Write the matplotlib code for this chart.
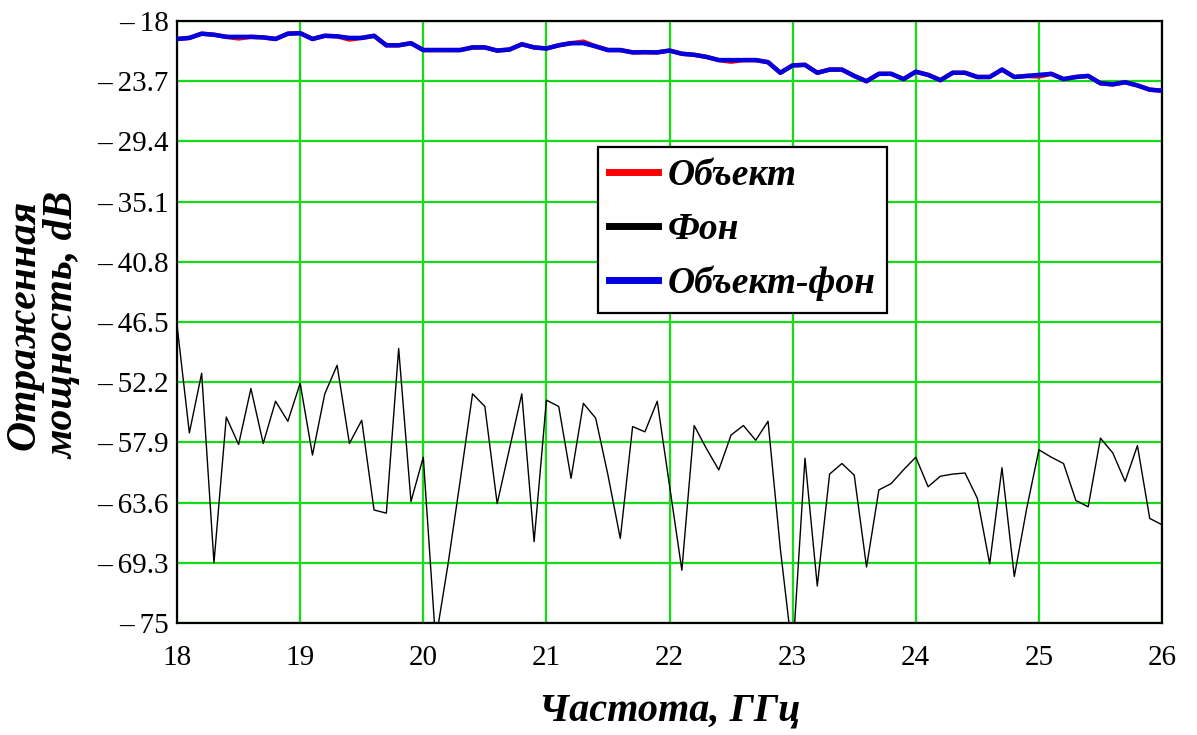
import numpy as np
import matplotlib
matplotlib.use("Agg")
import matplotlib.pyplot as plt

# Frequency grid, GHz (step 0.1)
freq = np.round(np.arange(18.0, 26.0001, 0.1), 1)

# Reflected power, dB
obj_bg = [-19.7, -19.6, -19.2, -19.3, -19.5, -19.5, -19.5, -19.55, -19.7, -19.2,
          -19.15, -19.7, -19.4, -19.45, -19.6, -19.6, -19.4, -20.3, -20.3, -20.1,
          -20.75, -20.75, -20.75, -20.75, -20.5, -20.5, -20.8, -20.7, -20.2, -20.5,
          -20.6, -20.3, -20.1, -20.1, -20.4, -20.75, -20.75, -20.97, -20.95, -20.97,
          -20.8, -21.1, -21.2, -21.4, -21.7, -21.7, -21.7, -21.7, -21.9, -22.9,
          -22.2, -22.15, -22.9, -22.6, -22.6, -23.2, -23.7, -23.0, -23.0, -23.5,
          -22.8, -23.1, -23.6, -22.9, -22.9, -23.3, -23.3, -22.6, -23.3, -23.2,
          -23.1, -23.0, -23.5, -23.3, -23.2, -23.9, -24.0, -23.8, -24.1, -24.5,
          -24.6]

obj = [-19.7, -19.6, -19.2, -19.3, -19.5, -19.65, -19.5, -19.55, -19.7, -19.2,
       -19.15, -19.7, -19.4, -19.45, -19.75, -19.6, -19.4, -20.3, -20.3, -20.1,
       -20.75, -20.75, -20.75, -20.75, -20.5, -20.5, -20.8, -20.7, -20.2, -20.5,
       -20.6, -20.3, -20.1, -19.95, -20.4, -20.75, -20.75, -20.97, -20.95, -20.97,
       -20.8, -21.1, -21.2, -21.4, -21.7, -21.85, -21.7, -21.7, -21.9, -22.9,
       -22.2, -22.15, -22.9, -22.6, -22.6, -23.2, -23.7, -23.0, -23.0, -23.5,
       -22.8, -23.1, -23.6, -22.9, -22.9, -23.3, -23.3, -22.6, -23.3, -23.2,
       -23.25, -23.0, -23.5, -23.3, -23.2, -23.9, -24.0, -23.8, -24.1, -24.5,
       -24.6]

bg = [-46.8, -57.0, -51.35, -69.3, -55.5, -58.1, -52.8, -58.0, -54.0, -55.9,
      -52.3, -59.1, -53.3, -50.6, -58.0, -55.8, -64.3, -64.6, -49.0, -63.5,
      -59.3, -76.7, -69.5, -61.5, -53.3, -54.5, -63.7, -58.5, -53.3, -67.3,
      -53.9, -54.5, -61.3, -54.2, -55.6, -61.0, -67.0, -56.4, -56.9, -54.0,
      -62.0, -70.0, -56.3, -58.5, -60.5, -57.2, -56.3, -57.7, -55.9, -68.0,
      -78.0, -59.4, -71.5, -60.9, -59.9, -61.0, -69.7, -62.4, -61.8, -60.5,
      -59.3, -62.1, -61.1, -60.9, -60.8, -63.2, -69.4, -60.3, -70.6, -64.2,
      -58.6, -59.3, -59.9, -63.4, -64.0, -57.5, -58.9, -61.6, -58.2, -65.1,
      -65.7]

x_ticks = [18, 19, 20, 21, 22, 23, 24, 25, 26]
y_ticks = [-18, -23.7, -29.4, -35.1, -40.8, -46.5, -52.2, -57.9, -63.6, -69.3, -75]

labels = ["Объект", "Фон", "Объект-фон"]

serif = ["Liberation Serif", "DejaVu Serif"]


def tick_text(v):
    s = "%g" % abs(v)
    return "\u2013\u2009" + s if v < 0 else s


def main():
    fig = plt.figure(figsize=(11.97, 7.35), dpi=100)
    ax = fig.add_axes([0.1479, 0.1524, 0.8229, 0.8190])

    ax.plot(freq, obj, color="#ff0000", lw=3.2, label=labels[0], zorder=3)
    ax.plot(freq, bg, color="black", lw=1.0, label=labels[1], zorder=3)
    ax.plot(freq, obj_bg, color="#0000e0", lw=3.2, label=labels[2], zorder=4)

    ax.set_xlim(18, 26)
    ax.set_ylim(-75, -18)
    ax.set_xticks(x_ticks)
    ax.set_yticks(y_ticks)
    ax.set_xticklabels([tick_text(v) for v in x_ticks], family=serif, fontsize=21)
    ax.set_yticklabels([tick_text(v) for v in y_ticks], family=serif, fontsize=21)
    ax.tick_params(axis="both", length=0)
    ax.tick_params(axis="x", pad=16)
    ax.tick_params(axis="y", pad=6)

    ax.grid(True, color="#14dc14", lw=1.6)
    ax.set_axisbelow(True)
    for sp in ax.spines.values():
        sp.set_color("black")
        sp.set_linewidth(1.6)

    ax.set_xlabel("Частота, ГГц", family=serif, fontsize=29,
                  fontweight="bold", fontstyle="italic", labelpad=15)
    fig.text(44 / 1197, 1 - 325 / 735, "Отраженная\nмощность, dB",
             family=serif, fontsize=30, fontweight="bold", fontstyle="italic",
             rotation=90, ha="center", va="center", linespacing=1.0)

    leg = ax.legend(loc="upper left", bbox_to_anchor=(0.4274, 0.7907),
                    borderaxespad=0, fancybox=False, framealpha=1,
                    edgecolor="black", handlelength=1.3, handletextpad=0.25,
                    labelspacing=0.5, borderpad=0.3,
                    prop={"family": serif, "size": 27, "weight": "bold",
                          "style": "italic"})
    leg.get_frame().set_linewidth(1.6)
    for line in leg.get_lines():
        line.set_linewidth(5)

    fig.savefig("out.png", dpi=100)
    plt.close(fig)


if __name__ == "__main__":
    main()
